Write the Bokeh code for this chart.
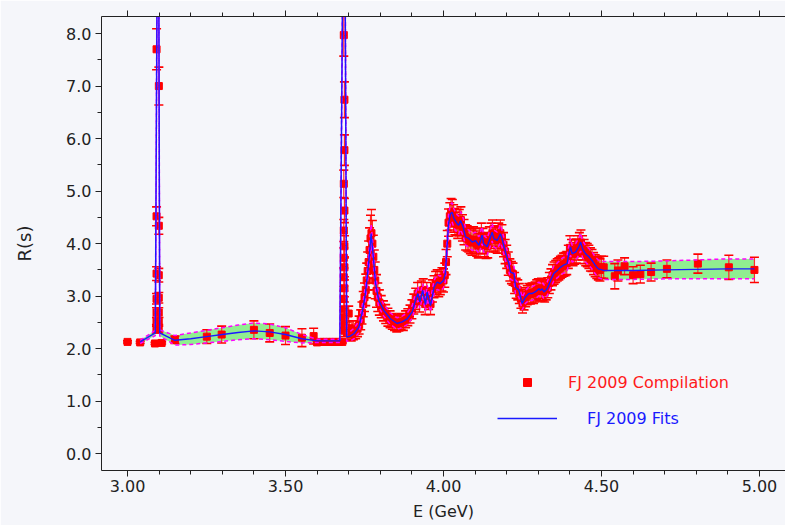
from bokeh.plotting import figure
from bokeh.models import (Range1d, LinearAxis, SingleIntervalTicker, NumeralTickFormatter,
                          Legend, LegendItem, CustomJSTickFormatter)
from bokeh.embed import file_html
from bokeh.resources import INLINE

BG = "#f5f6fa"
FONT = "DejaVu Sans"
TXT = "#222222"

# ---------------- fit curve (centre value) and band half-width ----------------
fit_E = [3.040, 3.088, 3.0962, 3.0978, 3.102, 3.150, 3.200, 3.250, 3.300, 3.350,
         3.400, 3.450, 3.500, 3.552, 3.600, 3.672, 3.6848, 3.6868, 3.6935, 3.705,
         3.717, 3.732, 3.742, 3.753, 3.763, 3.771, 3.777, 3.785, 3.795, 3.811,
         3.832, 3.853, 3.869, 3.885, 3.901, 3.911, 3.919, 3.925, 3.934, 3.943,
         3.948, 3.959, 3.970, 3.980, 3.990, 4.000, 4.006, 4.011, 4.016, 4.022,
         4.027, 4.033, 4.043, 4.048, 4.054, 4.062, 4.070, 4.080, 4.091, 4.101,
         4.112, 4.122, 4.127, 4.138, 4.149, 4.154, 4.159, 4.170, 4.180, 4.185,
         4.190, 4.200, 4.207, 4.212, 4.223, 4.228, 4.238, 4.244, 4.249, 4.254,
         4.259, 4.270, 4.280, 4.290, 4.302, 4.307, 4.312, 4.318, 4.328, 4.339,
         4.349, 4.360, 4.370, 4.380, 4.391, 4.396, 4.402, 4.407, 4.418, 4.428,
         4.434, 4.440, 4.449, 4.460, 4.470, 4.480, 4.490, 4.507, 4.528, 4.600,
         4.700, 4.800, 4.900, 4.984]
fit_R = [2.13, 2.30, 12.0, 12.0, 2.30, 2.16, 2.19, 2.23, 2.27, 2.31,
         2.34, 2.32, 2.27, 2.19, 2.15, 2.15, 12.0, 12.0, 2.22, 2.24,
         2.29, 2.41, 2.67, 3.05, 3.62, 4.19, 3.81, 3.24, 2.92, 2.73,
         2.57, 2.48, 2.51, 2.57, 2.70, 2.92, 3.05, 2.89, 3.11, 2.84,
         3.08, 2.82, 3.17, 3.27, 3.24, 3.30, 3.43, 3.94, 4.38, 4.57,
         4.60, 4.48, 4.38, 4.35, 4.44, 4.32, 4.13, 4.10, 4.03, 4.06,
         3.97, 4.16, 4.00, 3.94, 4.13, 4.22, 4.10, 4.06, 4.19, 4.10,
         3.98, 3.75, 3.62, 3.46, 3.43, 3.17, 3.12, 2.98, 2.86, 2.92,
         2.98, 3.05, 3.05, 3.08, 3.14, 3.11, 3.14, 3.08, 3.14, 3.30,
         3.43, 3.49, 3.55, 3.59, 3.62, 3.78, 3.94, 3.81, 3.84, 3.94,
         4.03, 3.90, 3.81, 3.75, 3.68, 3.59, 3.52, 3.49, 3.49, 3.49,
         3.50, 3.51, 3.52, 3.52]
fit_err = [0.03, 0.05, 0.5, 0.5, 0.06, 0.09, 0.11, 0.12, 0.13, 0.14,
           0.15, 0.15, 0.13, 0.08, 0.03, 0.03, 0.5, 0.5, 0.08, 0.09,
           0.10, 0.11, 0.12, 0.14, 0.16, 0.18, 0.16, 0.14, 0.12, 0.11,
           0.11, 0.11, 0.11, 0.11, 0.12, 0.12, 0.13, 0.12, 0.13, 0.12,
           0.13, 0.12, 0.13, 0.14, 0.14, 0.14, 0.15, 0.16, 0.17, 0.18,
           0.18, 0.18, 0.17, 0.17, 0.17, 0.17, 0.16, 0.16, 0.16, 0.16,
           0.16, 0.16, 0.16, 0.16, 0.16, 0.17, 0.16, 0.16, 0.17, 0.16,
           0.16, 0.15, 0.15, 0.14, 0.14, 0.13, 0.13, 0.12, 0.12, 0.12,
           0.12, 0.13, 0.13, 0.13, 0.13, 0.13, 0.13, 0.13, 0.13, 0.14,
           0.14, 0.14, 0.15, 0.15, 0.15, 0.16, 0.16, 0.16, 0.16, 0.16,
           0.17, 0.16, 0.16, 0.16, 0.16, 0.16, 0.17, 0.17, 0.17, 0.17,
           0.17, 0.18, 0.19, 0.19]

# ---------------- data points (FJ 2009 compilation) ----------------
data_E = [3.000, 3.040, 3.087, 3.108,
          3.0916, 3.0917, 3.0918, 3.0918, 3.0919, 3.0919, 3.0920,
          3.0988, 3.0989, 3.0989, 3.0990, 3.0990, 3.0991, 3.0992,
          3.150, 3.251, 3.298, 3.400, 3.450, 3.500, 3.552, 3.589,
          3.600, 3.610, 3.620, 3.630, 3.640, 3.650, 3.660, 3.670, 3.680,
          3.6845, 3.6845, 3.6845, 3.6845, 3.6845, 3.6845, 3.6845, 3.6845,
          3.6865, 3.6865, 3.6865, 3.6865, 3.6865, 3.6865, 3.6865, 3.6865,
          3.690, 3.695, 3.700, 3.703, 3.708, 3.715, 3.722, 3.728, 3.733, 3.738,
          3.742, 3.746, 3.750, 3.754, 3.757, 3.760, 3.763, 3.766, 3.769, 3.772,
          3.775, 3.778, 3.781, 3.784, 3.788, 3.792, 3.797, 3.803, 3.810, 3.817,
          3.824, 3.831, 3.838, 3.845, 3.852, 3.859, 3.866, 3.873, 3.880, 3.887,
          3.894, 3.900, 3.906, 3.912, 3.918, 3.924, 3.930, 3.936, 3.942, 3.947,
          3.953, 3.959, 3.965, 3.970, 3.975, 3.980, 3.985, 3.990, 3.995, 4.000,
          4.004, 4.008, 4.012, 4.016, 4.020, 4.024, 4.028, 4.032, 4.036, 4.040,
          4.045, 4.050, 4.055, 4.060, 4.065, 4.070, 4.075, 4.080, 4.085, 4.090,
          4.095, 4.100, 4.105, 4.110, 4.115, 4.120, 4.125, 4.130, 4.135, 4.140,
          4.145, 4.150, 4.155, 4.160, 4.165, 4.170, 4.175, 4.180, 4.185, 4.190,
          4.195, 4.200, 4.205, 4.210, 4.215, 4.220, 4.225, 4.230, 4.235, 4.240,
          4.245, 4.250, 4.255, 4.260, 4.265, 4.270, 4.275, 4.280, 4.285, 4.290,
          4.295, 4.300, 4.305, 4.310, 4.315, 4.320, 4.325, 4.330, 4.335, 4.340,
          4.345, 4.350, 4.355, 4.360, 4.365, 4.370, 4.375, 4.380, 4.385, 4.390,
          4.395, 4.400, 4.405, 4.410, 4.415, 4.420, 4.425, 4.430, 4.435, 4.440,
          4.445, 4.450, 4.455, 4.460, 4.465, 4.470, 4.475, 4.480, 4.485, 4.490,
          4.495, 4.500, 4.507,
          4.542, 4.552, 4.573, 4.600, 4.623, 4.657, 4.707, 4.805, 4.903, 4.984]
data_R = [2.13, 2.12, 2.10, 2.11,
          2.38, 2.51, 2.69, 2.95, 3.43, 4.52, 7.70,
          2.38, 2.51, 2.69, 2.97, 3.40, 4.34, 7.00,
          2.17, 2.23, 2.27, 2.36, 2.30, 2.25, 2.21, 2.24,
          2.12, 2.13, 2.13, 2.13, 2.13, 2.13, 2.13, 2.13, 2.13,
          7.97, 5.14, 4.25, 3.73, 3.36, 2.95, 2.60, 2.35,
          6.74, 5.78, 4.63, 3.95, 3.55, 3.15, 2.75, 2.45,
          2.40, 2.30, 2.67, 2.39, 2.27, 2.30, 2.33, 2.38, 2.45, 2.55,
          2.68, 2.85, 2.98, 3.12, 3.30, 3.48, 3.65, 3.88, 4.10, 4.20,
          4.00, 3.75, 3.50, 3.30, 3.10, 2.98, 2.88, 2.80, 2.72, 2.66,
          2.60, 2.56, 2.52, 2.50, 2.47, 2.49, 2.52, 2.50, 2.56, 2.60,
          2.66, 2.75, 2.85, 2.95, 3.05, 2.90, 3.08, 3.12, 2.85, 3.05,
          2.95, 2.85, 3.10, 3.18, 3.25, 3.28, 3.20, 3.25, 3.32, 3.30,
          3.40, 3.65, 4.00, 4.40, 4.52, 4.60, 4.58, 4.48, 4.42, 4.40,
          4.35, 4.40, 4.45, 4.30, 4.22, 4.12, 4.10, 4.08, 4.05, 4.02,
          4.08, 4.05, 4.00, 3.96, 4.05, 4.15, 4.05, 3.98, 3.95, 3.96,
          4.08, 4.15, 4.20, 4.10, 4.08, 4.06, 4.15, 4.20, 4.12, 3.98,
          3.85, 3.75, 3.62, 3.50, 3.45, 3.42, 3.25, 3.15, 3.12, 3.05,
          2.95, 2.86, 2.92, 2.98, 3.02, 3.05, 3.04, 3.06, 3.05, 3.08,
          3.12, 3.14, 3.10, 3.15, 3.10, 3.08, 3.12, 3.16, 3.25, 3.32,
          3.40, 3.44, 3.47, 3.50, 3.52, 3.55, 3.57, 3.60, 3.61, 3.63,
          3.75, 3.92, 3.85, 3.80, 3.84, 3.86, 3.92, 3.98, 4.02, 3.92,
          3.85, 3.80, 3.78, 3.75, 3.70, 3.68, 3.62, 3.58, 3.55, 3.52,
          3.50, 3.55, 3.55,
          3.38, 3.49, 3.57, 3.40, 3.42, 3.46, 3.52, 3.62, 3.55, 3.50]
data_err = [0.02, 0.02, 0.02, 0.02,
            0.08, 0.08, 0.09, 0.10, 0.13, 0.18, 0.39,
            0.08, 0.08, 0.09, 0.10, 0.13, 0.16, 0.36,
            0.07, 0.13, 0.16, 0.17, 0.17, 0.17, 0.17, 0.15,
            0.02, 0.02, 0.02, 0.02, 0.02, 0.02, 0.02, 0.02, 0.02,
            0.40, 0.26, 0.21, 0.19, 0.17, 0.15, 0.13, 0.12,
            0.34, 0.29, 0.23, 0.20, 0.18, 0.16, 0.14, 0.12,
            0.12, 0.12, 0.14, 0.12, 0.12, 0.13, 0.14, 0.15, 0.17, 0.19,
            0.21, 0.24, 0.27, 0.30, 0.33, 0.36, 0.40, 0.42, 0.44, 0.45,
            0.44, 0.41, 0.38, 0.35, 0.31, 0.27, 0.24, 0.21, 0.19, 0.18,
            0.17, 0.16, 0.15, 0.15, 0.15, 0.15, 0.15, 0.15, 0.16, 0.16,
            0.17, 0.18, 0.19, 0.20, 0.21, 0.20, 0.21, 0.21, 0.20, 0.21,
            0.20, 0.20, 0.21, 0.21, 0.22, 0.22, 0.21, 0.22, 0.22, 0.22,
            0.23, 0.24, 0.25, 0.26, 0.26, 0.26, 0.26, 0.26, 0.25, 0.25,
            0.25, 0.25, 0.25, 0.25, 0.24, 0.24, 0.24, 0.24, 0.24, 0.24,
            0.24, 0.24, 0.24, 0.23, 0.24, 0.24, 0.24, 0.23, 0.23, 0.23,
            0.24, 0.24, 0.25, 0.24, 0.24, 0.24, 0.24, 0.25, 0.24, 0.23,
            0.23, 0.22, 0.22, 0.21, 0.21, 0.21, 0.20, 0.19, 0.19, 0.19,
            0.18, 0.18, 0.18, 0.18, 0.18, 0.19, 0.19, 0.19, 0.19, 0.19,
            0.19, 0.19, 0.19, 0.19, 0.19, 0.19, 0.19, 0.19, 0.20, 0.20,
            0.20, 0.21, 0.21, 0.21, 0.21, 0.21, 0.21, 0.22, 0.22, 0.22,
            0.22, 0.23, 0.23, 0.22, 0.23, 0.23, 0.23, 0.23, 0.24, 0.23,
            0.23, 0.22, 0.22, 0.22, 0.22, 0.21, 0.21, 0.21, 0.21, 0.21,
            0.21, 0.21, 0.21,
            0.24, 0.20, 0.16, 0.16, 0.17, 0.17, 0.17, 0.18, 0.23, 0.24]

x_ticks_interval = 0.5
y_ticks_interval = 1.0

fit_lo = [r - e for r, e in zip(fit_R, fit_err)]
fit_hi = [r + e for r, e in zip(fit_R, fit_err)]
data_lo = [r - e for r, e in zip(data_R, data_err)]
data_hi = [r + e for r, e in zip(data_R, data_err)]

p = figure(width=785, height=525, output_backend="svg", toolbar_location=None,
           x_range=Range1d(2.9177, 5.0823), y_range=Range1d(-0.318, 8.324),
           min_border_left=101, min_border_right=0, min_border_top=16,
           min_border_bottom=55,
           background_fill_color=BG, border_fill_color=BG, outline_line_color=None)
p.grid.visible = False

# band
p.varea(x=fit_E, y1=fit_lo, y2=fit_hi, fill_color="#90ee90", fill_alpha=1.0)
# error bars
p.segment(x0=data_E, y0=data_lo, x1=data_E, y1=data_hi, line_color="#ff2a2a",
          line_width=1.2)
p.scatter(x=data_E, y=data_lo, marker="dash", size=9, line_color="#ff0000",
          line_width=1.6)
p.scatter(x=data_E, y=data_hi, marker="dash", size=9, line_color="#ff0000",
          line_width=1.6)
sq = p.scatter(x=data_E, y=data_R, marker="square", size=7, fill_color="#ff0000",
               line_color="#ff0000")
# band edges
p.line(x=fit_E, y=fit_lo, line_color="#ff00ff", line_dash="4 3", line_width=1.5)
p.line(x=fit_E, y=fit_hi, line_color="#ff00ff", line_dash="4 3", line_width=1.5)
# fit
fl = p.line(x=fit_E, y=fit_R, line_color="#1a1aff", line_width=1.4)

# axes
def style_axis(ax):
    ax.axis_line_color = TXT
    ax.major_tick_line_color = TXT
    ax.minor_tick_line_color = TXT
    ax.major_tick_in = 0
    ax.minor_tick_in = 0
    ax.major_tick_out = 6
    ax.minor_tick_out = 4
    ax.major_label_text_font = FONT
    ax.major_label_text_font_size = "16px"
    ax.major_label_text_color = TXT
    ax.axis_label_text_font = FONT
    ax.axis_label_text_font_size = "16px"
    ax.axis_label_text_font_style = "normal"
    ax.axis_label_text_color = TXT

xa = p.xaxis[0]
xa.ticker = SingleIntervalTicker(interval=x_ticks_interval, num_minor_ticks=5)
xa.formatter = NumeralTickFormatter(format="0.00")
xa.axis_label = "E (GeV)"
style_axis(xa)
xa.major_label_standoff = 3
xa.axis_label_standoff = 7

ya = p.yaxis[0]
ya.ticker = SingleIntervalTicker(interval=y_ticks_interval, num_minor_ticks=2)
ya.formatter = NumeralTickFormatter(format="0.0")
ya.axis_label = "R(s)"
style_axis(ya)
ya.axis_label_text_font_size = "18px"
ya.major_label_standoff = 4
ya.axis_label_standoff = 28

top = LinearAxis(ticker=SingleIntervalTicker(interval=x_ticks_interval, num_minor_ticks=5),
                 formatter=CustomJSTickFormatter(code="return ''"))
style_axis(top)
top.major_label_standoff = 0
p.add_layout(top, "above")

common = dict(padding=0, margin=0, border_line_color=None, background_fill_alpha=0,
              glyph_width=60, glyph_height=20, label_height=20, spacing=0,
              label_text_font=FONT, label_text_font_size="16px")
leg1 = Legend(items=[LegendItem(label="FJ 2009 Compilation", renderers=[sq])],
              location=(396, 78), label_standoff=11, label_text_color="#ff1a1a", **common)
leg2 = Legend(items=[LegendItem(label="FJ 2009 Fits", renderers=[fl])],
              location=(396, 42), label_standoff=30, label_text_color="#1a1aff", **common)
p.add_layout(leg1)
p.add_layout(leg2)

open("out.html", "w").write(file_html(p, INLINE))
